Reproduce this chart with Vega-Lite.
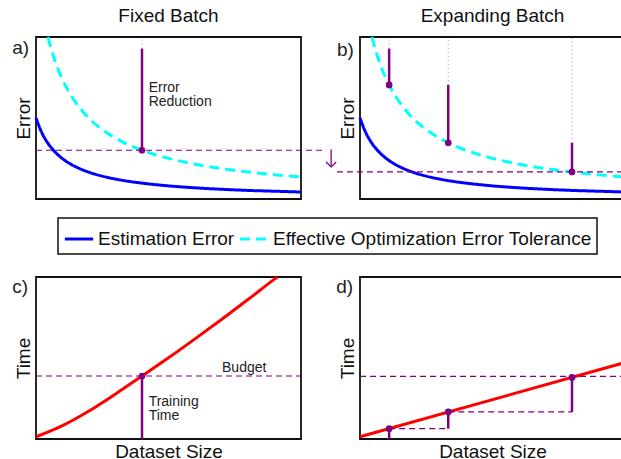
{
  "$schema": "https://vega.github.io/schema/vega-lite/v6.json",
  "padding": {"left": 11, "top": 6, "right": 0, "bottom": 0},
  "background": "white",
  "bounds": "flush",
  "columns": 2,
  "spacing": {"row": 78, "column": 59},
  "config": {
    "view": {"stroke": "#111", "strokeWidth": 1.8},
    "axis": {"domain": false, "ticks": false, "labels": false, "grid": false, "titleFont": "Liberation Sans", "titleFontSize": 19, "titleFontWeight": "normal", "titleColor": "#111", "titlePadding": 3},
    "axisY": {"titleBaseline": "alphabetic", "titlePadding": 7},
    "title": {"font": "Liberation Sans", "fontSize": 19, "fontWeight": "normal", "color": "#111", "offset": 5, "baseline": "alphabetic", "frame": "group", "anchor": "middle"},
    "text": {"font": "Liberation Sans", "color": "#222"}
  },
  "datasets": {
    "error_curves": [
      {"series": "Estimation Error", "x": 0, "y": 50},
      {"series": "Estimation Error", "x": 2, "y": 41.6},
      {"series": "Estimation Error", "x": 4, "y": 35.6},
      {"series": "Estimation Error", "x": 6, "y": 31.2},
      {"series": "Estimation Error", "x": 8, "y": 27.7},
      {"series": "Estimation Error", "x": 10, "y": 24.9},
      {"series": "Estimation Error", "x": 13, "y": 21.6},
      {"series": "Estimation Error", "x": 16, "y": 19.1},
      {"series": "Estimation Error", "x": 20, "y": 16.5},
      {"series": "Estimation Error", "x": 25, "y": 14.1},
      {"series": "Estimation Error", "x": 30, "y": 12.3},
      {"series": "Estimation Error", "x": 35, "y": 10.9},
      {"series": "Estimation Error", "x": 40, "y": 9.8},
      {"series": "Estimation Error", "x": 50, "y": 8.1},
      {"series": "Estimation Error", "x": 60, "y": 6.9},
      {"series": "Estimation Error", "x": 70, "y": 6.0},
      {"series": "Estimation Error", "x": 80, "y": 5.3},
      {"series": "Estimation Error", "x": 90, "y": 4.8},
      {"series": "Estimation Error", "x": 100, "y": 4.3},
      {"series": "Effective Optimization Error Tolerance", "x": 4.5, "y": 100},
      {"series": "Effective Optimization Error Tolerance", "x": 6, "y": 91.2},
      {"series": "Effective Optimization Error Tolerance", "x": 8, "y": 81.5},
      {"series": "Effective Optimization Error Tolerance", "x": 11, "y": 70.4},
      {"series": "Effective Optimization Error Tolerance", "x": 13, "y": 64.5},
      {"series": "Effective Optimization Error Tolerance", "x": 16, "y": 57.3},
      {"series": "Effective Optimization Error Tolerance", "x": 20, "y": 49.8},
      {"series": "Effective Optimization Error Tolerance", "x": 25, "y": 42.8},
      {"series": "Effective Optimization Error Tolerance", "x": 30, "y": 37.6},
      {"series": "Effective Optimization Error Tolerance", "x": 33.3, "y": 34.7},
      {"series": "Effective Optimization Error Tolerance", "x": 36, "y": 32.7},
      {"series": "Effective Optimization Error Tolerance", "x": 40, "y": 30.1},
      {"series": "Effective Optimization Error Tolerance", "x": 45, "y": 27.4},
      {"series": "Effective Optimization Error Tolerance", "x": 50, "y": 25.1},
      {"series": "Effective Optimization Error Tolerance", "x": 60, "y": 21.5},
      {"series": "Effective Optimization Error Tolerance", "x": 70, "y": 18.8},
      {"series": "Effective Optimization Error Tolerance", "x": 80, "y": 16.7},
      {"series": "Effective Optimization Error Tolerance", "x": 90, "y": 15.0},
      {"series": "Effective Optimization Error Tolerance", "x": 100, "y": 13.6}
    ],
    "time_fixed": [
      {"x": 0, "y": 1.4}, {"x": 10, "y": 8.3}, {"x": 20, "y": 17.3}, {"x": 30, "y": 27.8},
      {"x": 40, "y": 38.9}, {"x": 50, "y": 50.1}, {"x": 60, "y": 61.8}, {"x": 70, "y": 73.8},
      {"x": 80, "y": 86.1}, {"x": 90, "y": 98.7}, {"x": 91.1, "y": 100}
    ],
    "time_expanding": [
      {"x": 0, "y": 1.4}, {"x": 100, "y": 47.2}
    ],
    "rules": [
      {"panel": "a", "kind": "guide", "x": 40, "x2": 40, "y": 92.8, "y2": 100},
      {"panel": "a", "kind": "level", "x": 0, "x2": 108.7, "y": 30.1, "y2": 30.1},
      {"panel": "a", "kind": "stem", "x": 40, "x2": 40, "y": 30.1, "y2": 92.8},
      {"panel": "b", "kind": "guide", "x": 11, "x2": 11, "y": 92.8, "y2": 100},
      {"panel": "b", "kind": "guide", "x": 33.3, "x2": 33.3, "y": 70.4, "y2": 100},
      {"panel": "b", "kind": "guide", "x": 80, "x2": 80, "y": 34.7, "y2": 100},
      {"panel": "b", "kind": "level", "x": -8.7, "x2": 100, "y": 16.7, "y2": 16.7},
      {"panel": "b", "kind": "stem", "x": 11, "x2": 11, "y": 70.4, "y2": 92.8},
      {"panel": "b", "kind": "stem", "x": 33.3, "x2": 33.3, "y": 34.7, "y2": 70.4},
      {"panel": "b", "kind": "stem", "x": 80, "x2": 80, "y": 16.7, "y2": 34.7},
      {"panel": "c", "kind": "level", "x": 0, "x2": 100, "y": 38.9, "y2": 38.9},
      {"panel": "c", "kind": "stem", "x": 40, "x2": 40, "y": 0, "y2": 38.9},
      {"panel": "d", "kind": "level", "x": 0, "x2": 100, "y": 38.7, "y2": 38.7},
      {"panel": "d", "kind": "level", "x": 11, "x2": 33.3, "y": 6.4, "y2": 6.4},
      {"panel": "d", "kind": "level", "x": 33.3, "x2": 80, "y": 16.7, "y2": 16.7},
      {"panel": "d", "kind": "stem", "x": 11, "x2": 11, "y": 0, "y2": 6.4},
      {"panel": "d", "kind": "stem", "x": 33.3, "x2": 33.3, "y": 6.4, "y2": 16.7},
      {"panel": "d", "kind": "stem", "x": 80, "x2": 80, "y": 16.7, "y2": 38.0}
    ],
    "points": [
      {"panel": "a", "x": 40, "y": 30.1},
      {"panel": "b", "x": 11, "y": 70.4},
      {"panel": "b", "x": 33.3, "y": 34.7},
      {"panel": "b", "x": 80, "y": 16.7},
      {"panel": "c", "x": 40, "y": 38.9},
      {"panel": "d", "x": 11, "y": 6.4},
      {"panel": "d", "x": 33.3, "y": 16.7},
      {"panel": "d", "x": 80, "y": 38.0}
    ],
    "arrow": [
      {"part": "shaft", "i": 0, "x": -10.9, "y": 30.6},
      {"part": "shaft", "i": 1, "x": -10.9, "y": 19.8},
      {"part": "head", "i": 0, "x": -12.8, "y": 22.8},
      {"part": "head", "i": 1, "x": -10.9, "y": 19.8},
      {"part": "head", "i": 2, "x": -9.0, "y": 22.8}
    ],
    "notes": [
      {"panel": "a", "kind": "note", "x": 42.5, "y": 65.9, "label": "Error"},
      {"panel": "a", "kind": "note", "x": 42.5, "y": 57.4, "label": "Reduction"},
      {"panel": "c", "kind": "note", "x": 70.2, "y": 41.5, "label": "Budget"},
      {"panel": "c", "kind": "note", "x": 42.5, "y": 20.6, "label": "Training"},
      {"panel": "c", "kind": "note", "x": 42.5, "y": 11.9, "label": "Time"},
      {"panel": "a", "kind": "tag", "x": -9, "y": 89.5, "label": "a)"},
      {"panel": "b", "kind": "tag", "x": -8.7, "y": 88.5, "label": "b)"},
      {"panel": "c", "kind": "tag", "x": -9, "y": 90.1, "label": "c)"},
      {"panel": "d", "kind": "tag", "x": -9, "y": 90.1, "label": "d)"}
    ]
  },
  "concat": [
    {
      "title": "Fixed Batch",
      "width": 265, "height": 162,
      "encoding": {
        "x": {"field": "x", "type": "quantitative", "scale": {"domain": [0, 100], "nice": false, "zero": false}, "axis": null},
        "y": {"field": "y", "type": "quantitative", "scale": {"domain": [0, 100], "nice": false, "zero": false}, "axis": {"title": "Error"}}
      },
      "layer": [
        {
          "data": {"name": "error_curves"},
          "mark": {"type": "line", "strokeWidth": 3, "interpolate": "monotone"},
          "encoding": {
            "color": {"field": "series", "type": "nominal", "scale": {"domain": ["Estimation Error", "Effective Optimization Error Tolerance"], "range": ["#0000ff", "#00ffff"]},
              "legend": {"title": null, "orient": "none", "legendX": 22, "legendY": 181, "direction": "horizontal", "symbolType": "stroke", "symbolSize": 800, "symbolStrokeWidth": 3, "labelFont": "Liberation Sans", "labelFontSize": 19, "labelColor": "#111", "labelOffset": 3, "columnPadding": -2, "padding": 5, "strokeColor": "#111", "fillColor": "white", "cornerRadius": 0, "labelLimit": 0,
                "encode": {"legend": {"update": {"strokeWidth": {"value": 1.5}}}, "symbols": {"update": {"strokeDash": {"signal": "datum.value === 'Estimation Error' ? [1, 0] : [6, 5]"}}}}}},
            "strokeDash": {"field": "series", "type": "nominal", "scale": {"domain": ["Estimation Error", "Effective Optimization Error Tolerance"], "range": [[1, 0], [10, 6]]},
              "legend": {"title": null, "orient": "none", "legendX": 22, "legendY": 181, "direction": "horizontal", "symbolType": "stroke", "symbolSize": 800, "symbolStrokeWidth": 3, "labelFont": "Liberation Sans", "labelFontSize": 19, "labelColor": "#111", "labelOffset": 3, "columnPadding": -2, "padding": 5, "strokeColor": "#111", "fillColor": "white", "cornerRadius": 0, "labelLimit": 0,
                "encode": {"legend": {"update": {"strokeWidth": {"value": 1.5}}}, "symbols": {"update": {"strokeDash": {"signal": "datum.value === 'Estimation Error' ? [1, 0] : [6, 5]"}}}}}}
          }
        },
        {
          "data": {"name": "rules"},
          "transform": [{"filter": "datum.panel === 'a' && datum.kind === 'guide'"}],
          "mark": {"type": "rule", "color": "#800080", "strokeWidth": 1, "strokeDash": [1, 3], "opacity": 0.5},
          "encoding": {"x2": {"field": "x2"}, "y2": {"field": "y2"}}
        },
        {
          "data": {"name": "rules"},
          "transform": [{"filter": "datum.panel === 'a' && datum.kind === 'level'"}],
          "mark": {"type": "rule", "color": "#800080", "strokeWidth": 1.2, "strokeDash": [6, 4]},
          "encoding": {"x2": {"field": "x2"}, "y2": {"field": "y2"}}
        },
        {
          "data": {"name": "rules"},
          "transform": [{"filter": "datum.panel === 'a' && datum.kind === 'stem'"}],
          "mark": {"type": "rule", "color": "#800080", "strokeWidth": 2.5},
          "encoding": {"x2": {"field": "x2"}, "y2": {"field": "y2"}}
        },
        {
          "data": {"name": "points"},
          "transform": [{"filter": "datum.panel === 'a'"}],
          "mark": {"type": "circle", "size": 45, "color": "#800080", "opacity": 1}
        },
        {
          "data": {"name": "notes"},
          "transform": [{"filter": "datum.panel === 'a' && datum.kind === 'note'"}],
          "mark": {"type": "text", "align": "left", "baseline": "alphabetic", "fontSize": 14},
          "encoding": {"text": {"field": "label"}}
        },
        {
          "data": {"name": "notes"},
          "transform": [{"filter": "datum.panel === 'a' && datum.kind === 'tag'"}],
          "mark": {"type": "text", "align": "left", "baseline": "alphabetic", "fontSize": 19},
          "encoding": {"text": {"field": "label"}}
        }
      ]
    },
    {
      "title": "Expanding Batch",
      "width": 265, "height": 162,
      "encoding": {
        "x": {"field": "x", "type": "quantitative", "scale": {"domain": [0, 100], "nice": false, "zero": false}, "axis": null},
        "y": {"field": "y", "type": "quantitative", "scale": {"domain": [0, 100], "nice": false, "zero": false}, "axis": {"title": "Error"}}
      },
      "layer": [
        {
          "data": {"name": "error_curves"},
          "mark": {"type": "line", "strokeWidth": 3, "interpolate": "monotone"},
          "encoding": {
            "color": {"field": "series", "type": "nominal", "scale": {"domain": ["Estimation Error", "Effective Optimization Error Tolerance"], "range": ["#0000ff", "#00ffff"]}, "legend": null},
            "strokeDash": {"field": "series", "type": "nominal", "scale": {"domain": ["Estimation Error", "Effective Optimization Error Tolerance"], "range": [[1, 0], [10, 6]]}, "legend": null}
          }
        },
        {
          "data": {"name": "rules"},
          "transform": [{"filter": "datum.panel === 'b' && datum.kind === 'guide'"}],
          "mark": {"type": "rule", "color": "#800080", "strokeWidth": 1, "strokeDash": [1, 3], "opacity": 0.5},
          "encoding": {"x2": {"field": "x2"}, "y2": {"field": "y2"}}
        },
        {
          "data": {"name": "rules"},
          "transform": [{"filter": "datum.panel === 'b' && datum.kind === 'level'"}],
          "mark": {"type": "rule", "color": "#800080", "strokeWidth": 1.2, "strokeDash": [6, 4]},
          "encoding": {"x2": {"field": "x2"}, "y2": {"field": "y2"}}
        },
        {
          "data": {"name": "rules"},
          "transform": [{"filter": "datum.panel === 'b' && datum.kind === 'stem'"}],
          "mark": {"type": "rule", "color": "#800080", "strokeWidth": 2.5},
          "encoding": {"x2": {"field": "x2"}, "y2": {"field": "y2"}}
        },
        {
          "data": {"name": "arrow"},
          "mark": {"type": "line", "color": "#800080", "strokeWidth": 1.3},
          "encoding": {"detail": {"field": "part"}, "order": {"field": "i"}}
        },
        {
          "data": {"name": "points"},
          "transform": [{"filter": "datum.panel === 'b'"}],
          "mark": {"type": "circle", "size": 45, "color": "#800080", "opacity": 1}
        },
        {
          "data": {"name": "notes"},
          "transform": [{"filter": "datum.panel === 'b' && datum.kind === 'tag'"}],
          "mark": {"type": "text", "align": "left", "baseline": "alphabetic", "fontSize": 19},
          "encoding": {"text": {"field": "label"}}
        }
      ]
    },
    {
      "width": 265, "height": 162,
      "encoding": {
        "x": {"field": "x", "type": "quantitative", "scale": {"domain": [0, 100], "nice": false, "zero": false}, "axis": {"title": "Dataset Size"}},
        "y": {"field": "y", "type": "quantitative", "scale": {"domain": [0, 100], "nice": false, "zero": false}, "axis": {"title": "Time"}}
      },
      "layer": [
        {
          "data": {"name": "time_fixed"},
          "mark": {"type": "line", "color": "#ff0000", "strokeWidth": 3, "interpolate": "monotone"}
        },
        {
          "data": {"name": "rules"},
          "transform": [{"filter": "datum.panel === 'c' && datum.kind === 'level'"}],
          "mark": {"type": "rule", "color": "#800080", "strokeWidth": 1.2, "strokeDash": [6, 4]},
          "encoding": {"x2": {"field": "x2"}, "y2": {"field": "y2"}}
        },
        {
          "data": {"name": "rules"},
          "transform": [{"filter": "datum.panel === 'c' && datum.kind === 'stem'"}],
          "mark": {"type": "rule", "color": "#800080", "strokeWidth": 2.5},
          "encoding": {"x2": {"field": "x2"}, "y2": {"field": "y2"}}
        },
        {
          "data": {"name": "points"},
          "transform": [{"filter": "datum.panel === 'c'"}],
          "mark": {"type": "circle", "size": 45, "color": "#800080", "opacity": 1}
        },
        {
          "data": {"name": "notes"},
          "transform": [{"filter": "datum.panel === 'c' && datum.kind === 'note'"}],
          "mark": {"type": "text", "align": "left", "baseline": "alphabetic", "fontSize": 14},
          "encoding": {"text": {"field": "label"}}
        },
        {
          "data": {"name": "notes"},
          "transform": [{"filter": "datum.panel === 'c' && datum.kind === 'tag'"}],
          "mark": {"type": "text", "align": "left", "baseline": "alphabetic", "fontSize": 19},
          "encoding": {"text": {"field": "label"}}
        }
      ]
    },
    {
      "width": 265, "height": 162,
      "encoding": {
        "x": {"field": "x", "type": "quantitative", "scale": {"domain": [0, 100], "nice": false, "zero": false}, "axis": {"title": "Dataset Size"}},
        "y": {"field": "y", "type": "quantitative", "scale": {"domain": [0, 100], "nice": false, "zero": false}, "axis": {"title": "Time"}}
      },
      "layer": [
        {
          "data": {"name": "time_expanding"},
          "mark": {"type": "line", "color": "#ff0000", "strokeWidth": 3}
        },
        {
          "data": {"name": "rules"},
          "transform": [{"filter": "datum.panel === 'd' && datum.kind === 'level'"}],
          "mark": {"type": "rule", "color": "#800080", "strokeWidth": 1.2, "strokeDash": [6, 4]},
          "encoding": {"x2": {"field": "x2"}, "y2": {"field": "y2"}}
        },
        {
          "data": {"name": "rules"},
          "transform": [{"filter": "datum.panel === 'd' && datum.kind === 'stem'"}],
          "mark": {"type": "rule", "color": "#800080", "strokeWidth": 2.5},
          "encoding": {"x2": {"field": "x2"}, "y2": {"field": "y2"}}
        },
        {
          "data": {"name": "points"},
          "transform": [{"filter": "datum.panel === 'd'"}],
          "mark": {"type": "circle", "size": 45, "color": "#800080", "opacity": 1}
        },
        {
          "data": {"name": "notes"},
          "transform": [{"filter": "datum.panel === 'd' && datum.kind === 'tag'"}],
          "mark": {"type": "text", "align": "left", "baseline": "alphabetic", "fontSize": 19},
          "encoding": {"text": {"field": "label"}}
        }
      ]
    }
  ]
}
